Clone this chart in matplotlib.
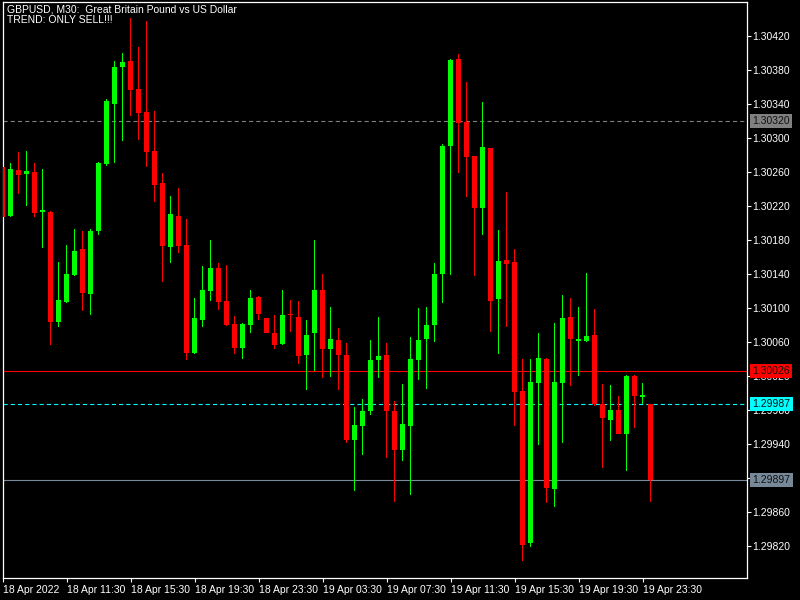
import matplotlib
matplotlib.use("Agg")
import matplotlib.pyplot as plt
import numpy as np

# GBPUSD M30 candles, prices
opens = [1.30266, 1.30208, 1.30262, 1.30257, 1.30260, 1.30213, 1.30213, 1.30083, 1.30107, 1.30139,
         1.30169, 1.30116, 1.30191, 1.30269, 1.30340, 1.30384, 1.30391, 1.30358, 1.30331, 1.30285,
         1.30247, 1.30172, 1.30208, 1.30174, 1.30047, 1.30086, 1.30120, 1.30147, 1.30108, 1.30081,
         1.30053, 1.30080, 1.30113, 1.30088, 1.30070, 1.30057, 1.30093, 1.30089, 1.30044, 1.30070,
         1.30121, 1.30052, 1.30062, 1.30045, 1.29945, 1.29961, 1.29979, 1.30039, 1.30045, 1.29979,
         1.29933, 1.29961, 1.30039, 1.30063, 1.30080, 1.30140, 1.30291, 1.30393, 1.30319, 1.30279,
         1.30217, 1.30288, 1.30110, 1.30156, 1.30154, 1.30002, 1.29823, 1.30011, 1.30040, 1.29887,
         1.30011, 1.30089, 1.30061, 1.30061, 1.30068, 1.29987, 1.29968, 1.29980, 1.29952, 1.30020,
         1.29995, 1.29987]
highs = [1.30267, 1.30271, 1.30284, 1.30285, 1.30270, 1.30264, 1.30214, 1.30154, 1.30174, 1.30193,
         1.30190, 1.30193, 1.30272, 1.30346, 1.30391, 1.30400, 1.30441, 1.30407, 1.30438, 1.30332,
         1.30259, 1.30232, 1.30241, 1.30205, 1.30112, 1.30149, 1.30180, 1.30153, 1.30150, 1.30090,
         1.30082, 1.30121, 1.30114, 1.30088, 1.30092, 1.30121, 1.30109, 1.30108, 1.30086, 1.30180,
         1.30140, 1.30101, 1.30076, 1.30059, 1.29983, 1.29993, 1.30062, 1.30089, 1.30059, 1.29990,
         1.30010, 1.30066, 1.30100, 1.30101, 1.30153, 1.30293, 1.30393, 1.30399, 1.30366, 1.30279,
         1.30342, 1.30288, 1.30192, 1.30236, 1.30169, 1.30040, 1.30040, 1.30070, 1.30041, 1.30082,
         1.30115, 1.30111, 1.30101, 1.30141, 1.30099, 1.30010, 1.30009, 1.29996, 1.30021, 1.30021,
         1.30012, 1.29987]
lows = [1.30206, 1.30207, 1.30234, 1.30220, 1.30207, 1.30170, 1.30056, 1.30078, 1.30106, 1.30138,
        1.30096, 1.30092, 1.30186, 1.30267, 1.30271, 1.30296, 1.30326, 1.30297, 1.30266, 1.30225,
        1.30131, 1.30153, 1.30164, 1.30039, 1.30046, 1.30078, 1.30108, 1.30097, 1.30079, 1.30046,
        1.30040, 1.30070, 1.30086, 1.30070, 1.30051, 1.30056, 1.30071, 1.30034, 1.30003, 1.30026,
        1.30018, 1.30019, 1.30003, 1.29941, 1.29884, 1.29927, 1.29974, 1.30018, 1.29923, 1.29872,
        1.29920, 1.29880, 1.30015, 1.30004, 1.30060, 1.30106, 1.30139, 1.30259, 1.30230, 1.30137,
        1.30186, 1.30072, 1.30046, 1.30078, 1.29961, 1.29802, 1.29818, 1.29938, 1.29870, 1.29866,
        1.29941, 1.30008, 1.30020, 1.30060, 1.29984, 1.29912, 1.29943, 1.29951, 1.29908, 1.29959,
        1.29987, 1.29871]
closes = [1.30207, 1.30264, 1.30256, 1.30261, 1.30212, 1.30214, 1.30083, 1.30109, 1.30140, 1.30167,
          1.30117, 1.30190, 1.30270, 1.30344, 1.30384, 1.30389, 1.30357, 1.30329, 1.30284, 1.30245,
          1.30173, 1.30211, 1.30173, 1.30047, 1.30088, 1.30121, 1.30147, 1.30107, 1.30080, 1.30053,
          1.30081, 1.30112, 1.30093, 1.30070, 1.30056, 1.30091, 1.30091, 1.30043, 1.30068, 1.30121,
          1.30051, 1.30063, 1.30045, 1.29945, 1.29962, 1.29979, 1.30039, 1.30043, 1.29978, 1.29933,
          1.29963, 1.30040, 1.30062, 1.30080, 1.30140, 1.30291, 1.30392, 1.30318, 1.30278, 1.30218,
          1.30289, 1.30108, 1.30155, 1.30152, 1.30001, 1.29821, 1.30013, 1.30041, 1.29888, 1.30013,
          1.30088, 1.30063, 1.30063, 1.30067, 1.29987, 1.29970, 1.29980, 1.29952, 1.30020, 1.29996,
          1.29997, 1.29897]

x_labels = ["18 Apr 2022", "18 Apr 11:30", "18 Apr 15:30", "18 Apr 19:30", "18 Apr 23:30",
            "19 Apr 03:30", "19 Apr 07:30", "19 Apr 11:30", "19 Apr 15:30", "19 Apr 19:30",
            "19 Apr 23:30"]
y_ticks = [1.30420, 1.30380, 1.30340, 1.30300, 1.30260, 1.30220, 1.30180, 1.30140, 1.30100,
           1.30060, 1.30020, 1.29980, 1.29940, 1.29900, 1.29860, 1.29820]

# horizontal levels: (price, colour, style)
levels = [(1.30320, "#808080", "dash"),
          (1.30026, "#ff0000", "solid"),
          (1.29987, "#00ffff", "dash"),
          (1.29897, "#778899", "solid")]

plt.rcParams["font.family"] = ["Liberation Sans", "DejaVu Sans"]
plt.rcParams["lines.scale_dashes"] = False

fig = plt.figure(figsize=(8, 6), dpi=100, facecolor="black")
ax = fig.add_axes([3 / 800, 1 - 578 / 600, 744 / 800, 576 / 600], facecolor="black")

o = np.array(opens)
h = np.array(highs)
l = np.array(lows)
c = np.array(closes)
idx = np.arange(len(o))
up = c >= o
cols = np.where(up, "#00ff00", "#ff0000")

# 8 px per bar: wick is a 1 px wide bar, body a 5 px wide bar
ax.bar(idx, h - l, bottom=l, width=0.125, color=cols, linewidth=0, zorder=3)
body_bottom = np.minimum(o, c)
body_h = np.maximum(np.abs(c - o), 0.000016)
ax.bar(idx, body_h, bottom=body_bottom, width=0.625, color=cols, linewidth=0, zorder=4)

for price, col, style in levels:
    ls = (0, (3, 2.2)) if style == "dash" else "-"
    ax.axhline(price, color=col, linewidth=0.8, linestyle=ls, zorder=2)
    ax.annotate(f"{price:.5f}", xy=(1.0, price), xycoords=("axes fraction", "data"),
                xytext=(4, 0), textcoords="offset points", va="center", ha="left",
                fontsize=7.5, color="#101010", zorder=10, annotation_clip=False,
                bbox=dict(boxstyle="square,pad=0.2", facecolor=col, edgecolor="none"))

ax.set_xlim((3 - 2.5) / 8, (747 - 2.5) / 8)
ax.set_ylim(1.29782, 1.30460)

ax.yaxis.tick_right()
ax.set_yticks(y_ticks)
ax.set_yticklabels([f"{v:.5f}" for v in y_ticks])
ax.set_xticks(np.arange(0, 81, 8))
ax.set_xticklabels(x_labels, ha="left")
ax.tick_params(axis="both", colors="white", labelcolor="white", labelsize=7.5,
               length=3, width=0.8, direction="out")
ax.tick_params(axis="x", pad=2)
ax.tick_params(axis="y", pad=1)
for sp in ax.spines.values():
    sp.set_color("white")
    sp.set_linewidth(0.9)

fig.text(7 / 800, 1 - 9 / 600, "GBPUSD, M30:  Great Britain Pound vs US Dollar",
         color="white", fontsize=7.5, va="center", ha="left")
fig.text(7 / 800, 1 - 20 / 600, "TREND: ONLY SELL!!!",
         color="white", fontsize=7.5, va="center", ha="left")

fig.savefig("out.png", dpi=100, facecolor="black")
